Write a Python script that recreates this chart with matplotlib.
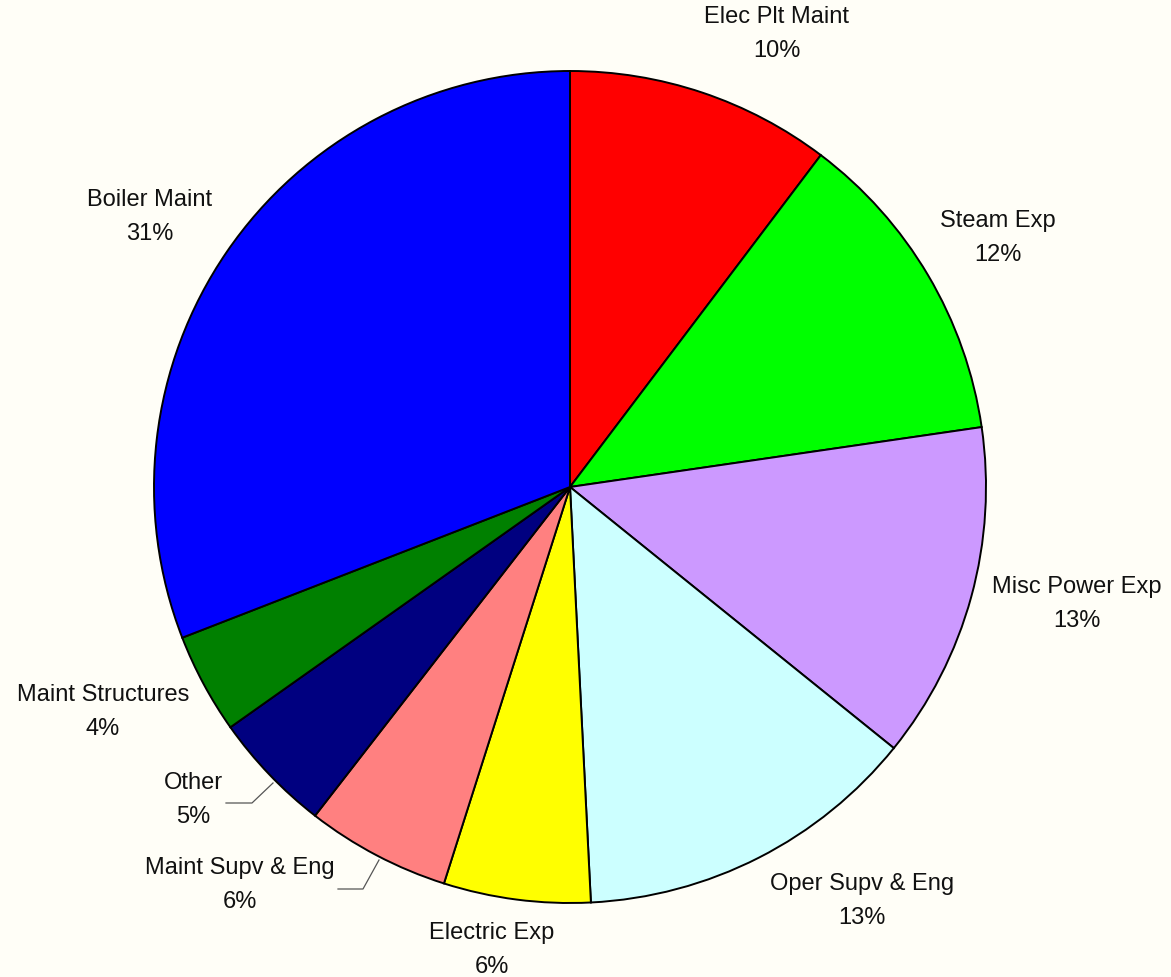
import matplotlib
matplotlib.use("Agg")
import matplotlib.pyplot as plt
import numpy as np

categories = ["Elec Plt Maint", "Steam Exp", "Misc Power Exp", "Oper Supv & Eng",
              "Electric Exp", "Maint Supv & Eng", "Other", "Maint Structures", "Boiler Maint"]
values = [10.3, 12.4, 13.1, 13.4, 5.7, 5.6, 4.7, 3.9, 30.9]
colors = ["#FF0000", "#00FF00", "#CC99FF", "#CCFFFF", "#FFFF00",
          "#FF8080", "#000080", "#008000", "#0000FF"]

W, H = 1171, 977
BG = "#FFFEF7"
# layout (pixel coords, y from top)
center = (570, 487)
radius = 416
label_pos = [(777, 34), (998, 238), (1077, 604), (862, 901), (492, 950),
             (240, 885), (193, 800), (103, 712), (150, 217)]
leaders = {5: [(338, 889), (363, 889), (379, 860)],
           6: [(226, 803), (252, 803), (273, 783)]}

plt.rcParams['font.family'] = ['Liberation Sans', 'DejaVu Sans']
fig = plt.figure(figsize=(W / 100, H / 100), dpi=100, facecolor=BG)
ax = fig.add_axes([0, 0, 1, 1])
ax.set_facecolor(BG)
ax.set_xlim(0, W)
ax.set_ylim(0, H)
ax.axis("off")

ax.pie(values, colors=colors, startangle=90, counterclock=False,
       center=(center[0], H - center[1]), radius=radius,
       wedgeprops=dict(edgecolor="black", linewidth=1.4), frame=False)
ax.set_xlim(0, W)
ax.set_ylim(0, H)
ax.set_aspect("equal")

total = sum(values)
for i, (name, v) in enumerate(zip(categories, values)):
    pct = int(round(v / total * 100))
    x, y = label_pos[i]
    ax.text(x, H - y, f"{name}\n{pct}%", ha="center", va="center",
            fontsize=17, linespacing=1.65, color="#111111")

for i, pts in leaders.items():
    xs = [p[0] for p in pts]
    ys = [H - p[1] for p in pts]
    ax.plot(xs, ys, color="#555555", linewidth=0.9)

fig.savefig("out.png", dpi=100, facecolor=BG)
